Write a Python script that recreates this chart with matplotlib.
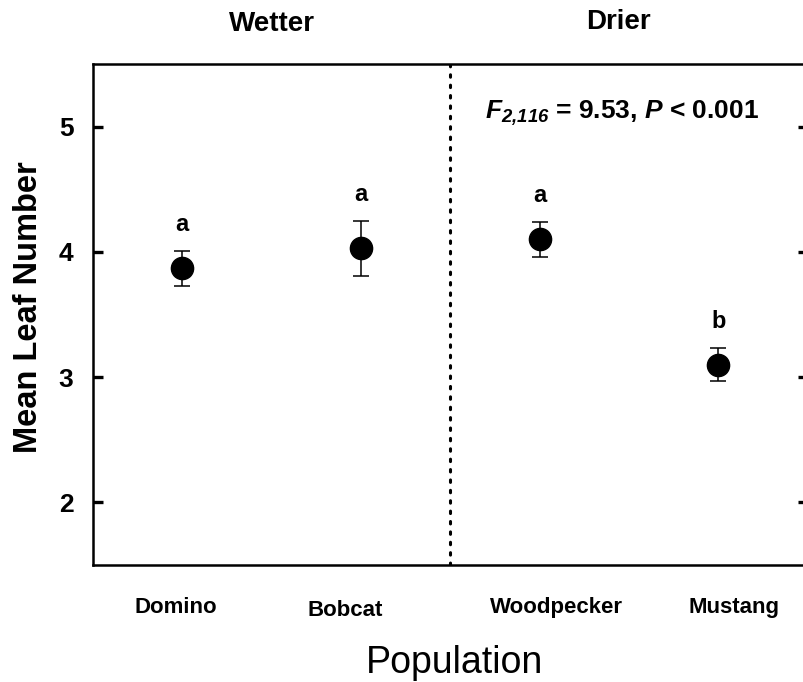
import matplotlib
matplotlib.use('Agg')
import matplotlib.pyplot as plt
import matplotlib.transforms as mtransforms

# Datos
poblaciones = ['Domino', 'Bobcat', 'Woodpecker', 'Mustang']
medias = [3.87, 4.03, 4.10, 3.10]
errores = [0.14, 0.22, 0.14, 0.13]
letras = ['a', 'a', 'a', 'b']
grupos = ['Wetter', 'Drier']
y_ticks = [2, 3, 4, 5]
texto_stat = r'$\mathsf{F}_{\mathsf{2{,}116}}$ = 9.53, $\mathsf{P}$ < 0.001'

plt.rcParams['font.family'] = 'Liberation Sans'
plt.rcParams['mathtext.fontset'] = 'custom'
plt.rcParams['mathtext.rm'] = 'Liberation Sans:bold'
plt.rcParams['mathtext.sf'] = 'Liberation Sans:italic:bold'
plt.rcParams['mathtext.it'] = 'Liberation Sans:italic:bold'

fig = plt.figure(figsize=(8.04, 6.82), dpi=100)
# el eje derecho queda un poco fuera de la imagen, como en el original
ax = fig.add_axes([0.1157, 0.1716, 0.889, 0.7346])

x = list(range(1, len(poblaciones) + 1))
ax.errorbar(x, medias, yerr=errores, fmt='o', color='black', markersize=16,
            ecolor='black', elinewidth=1.1, capsize=6, capthick=1.1, zorder=3)

# letras de significancia encima de cada barra de error
for xi, m, e, l in zip(x, medias, errores, letras):
    ax.text(xi, m + e + 0.21, l, ha='center', va='center', fontsize=17,
            fontweight='bold')

# linea punteada que separa los dos grupos
ax.axvline(2.5, color='black', linewidth=2.2, linestyle=(0, (0.8, 2.6)),
           dash_capstyle='round')

ax.set_xlim(0.5, 4.5)
ax.set_ylim(1.5, 5.5)
ax.set_yticks(y_ticks)
ax.set_yticklabels([str(t) for t in y_ticks], fontsize=19, fontweight='bold')
ax.set_xticks(x)
ax.set_xticklabels(poblaciones, fontsize=16, fontweight='bold')
ax.tick_params(axis='y', direction='in', length=7, width=2.4, pad=14,
               left=True, right=True)
ax.tick_params(axis='x', length=0, pad=23)

# las etiquetas del original no quedan justo debajo de los puntos
corrimientos = [(-7, 0), (-16, -3), (17, 0), (16, 0)]
for lab, (dx, dy) in zip(ax.get_xticklabels(), corrimientos):
    lab.set_transform(lab.get_transform() +
                      mtransforms.ScaledTranslation(dx / 100, dy / 100,
                                                    fig.dpi_scale_trans))

for s in ax.spines.values():
    s.set_linewidth(1.8)
ax.spines['right'].set_visible(False)

ax.set_ylabel('Mean Leaf Number', fontsize=23.5, fontweight='bold')
ax.yaxis.set_label_coords(-0.068, 0.515)
ax.set_xlabel('Population', fontsize=27)
ax.xaxis.set_label_coords(0.506, -0.16)

# titulos de los grupos arriba
ax.text(1.5, 1.08, grupos[0], transform=ax.get_xaxis_transform(),
        ha='center', va='center', fontsize=20, fontweight='bold')
ax.text(3.44, 1.083, grupos[1], transform=ax.get_xaxis_transform(),
        ha='center', va='center', fontsize=20, fontweight='bold')

ax.text(3.46, 5.11, texto_stat, ha='center', va='center', fontsize=19,
        fontweight='bold')

plt.savefig('out.png', dpi=100)
